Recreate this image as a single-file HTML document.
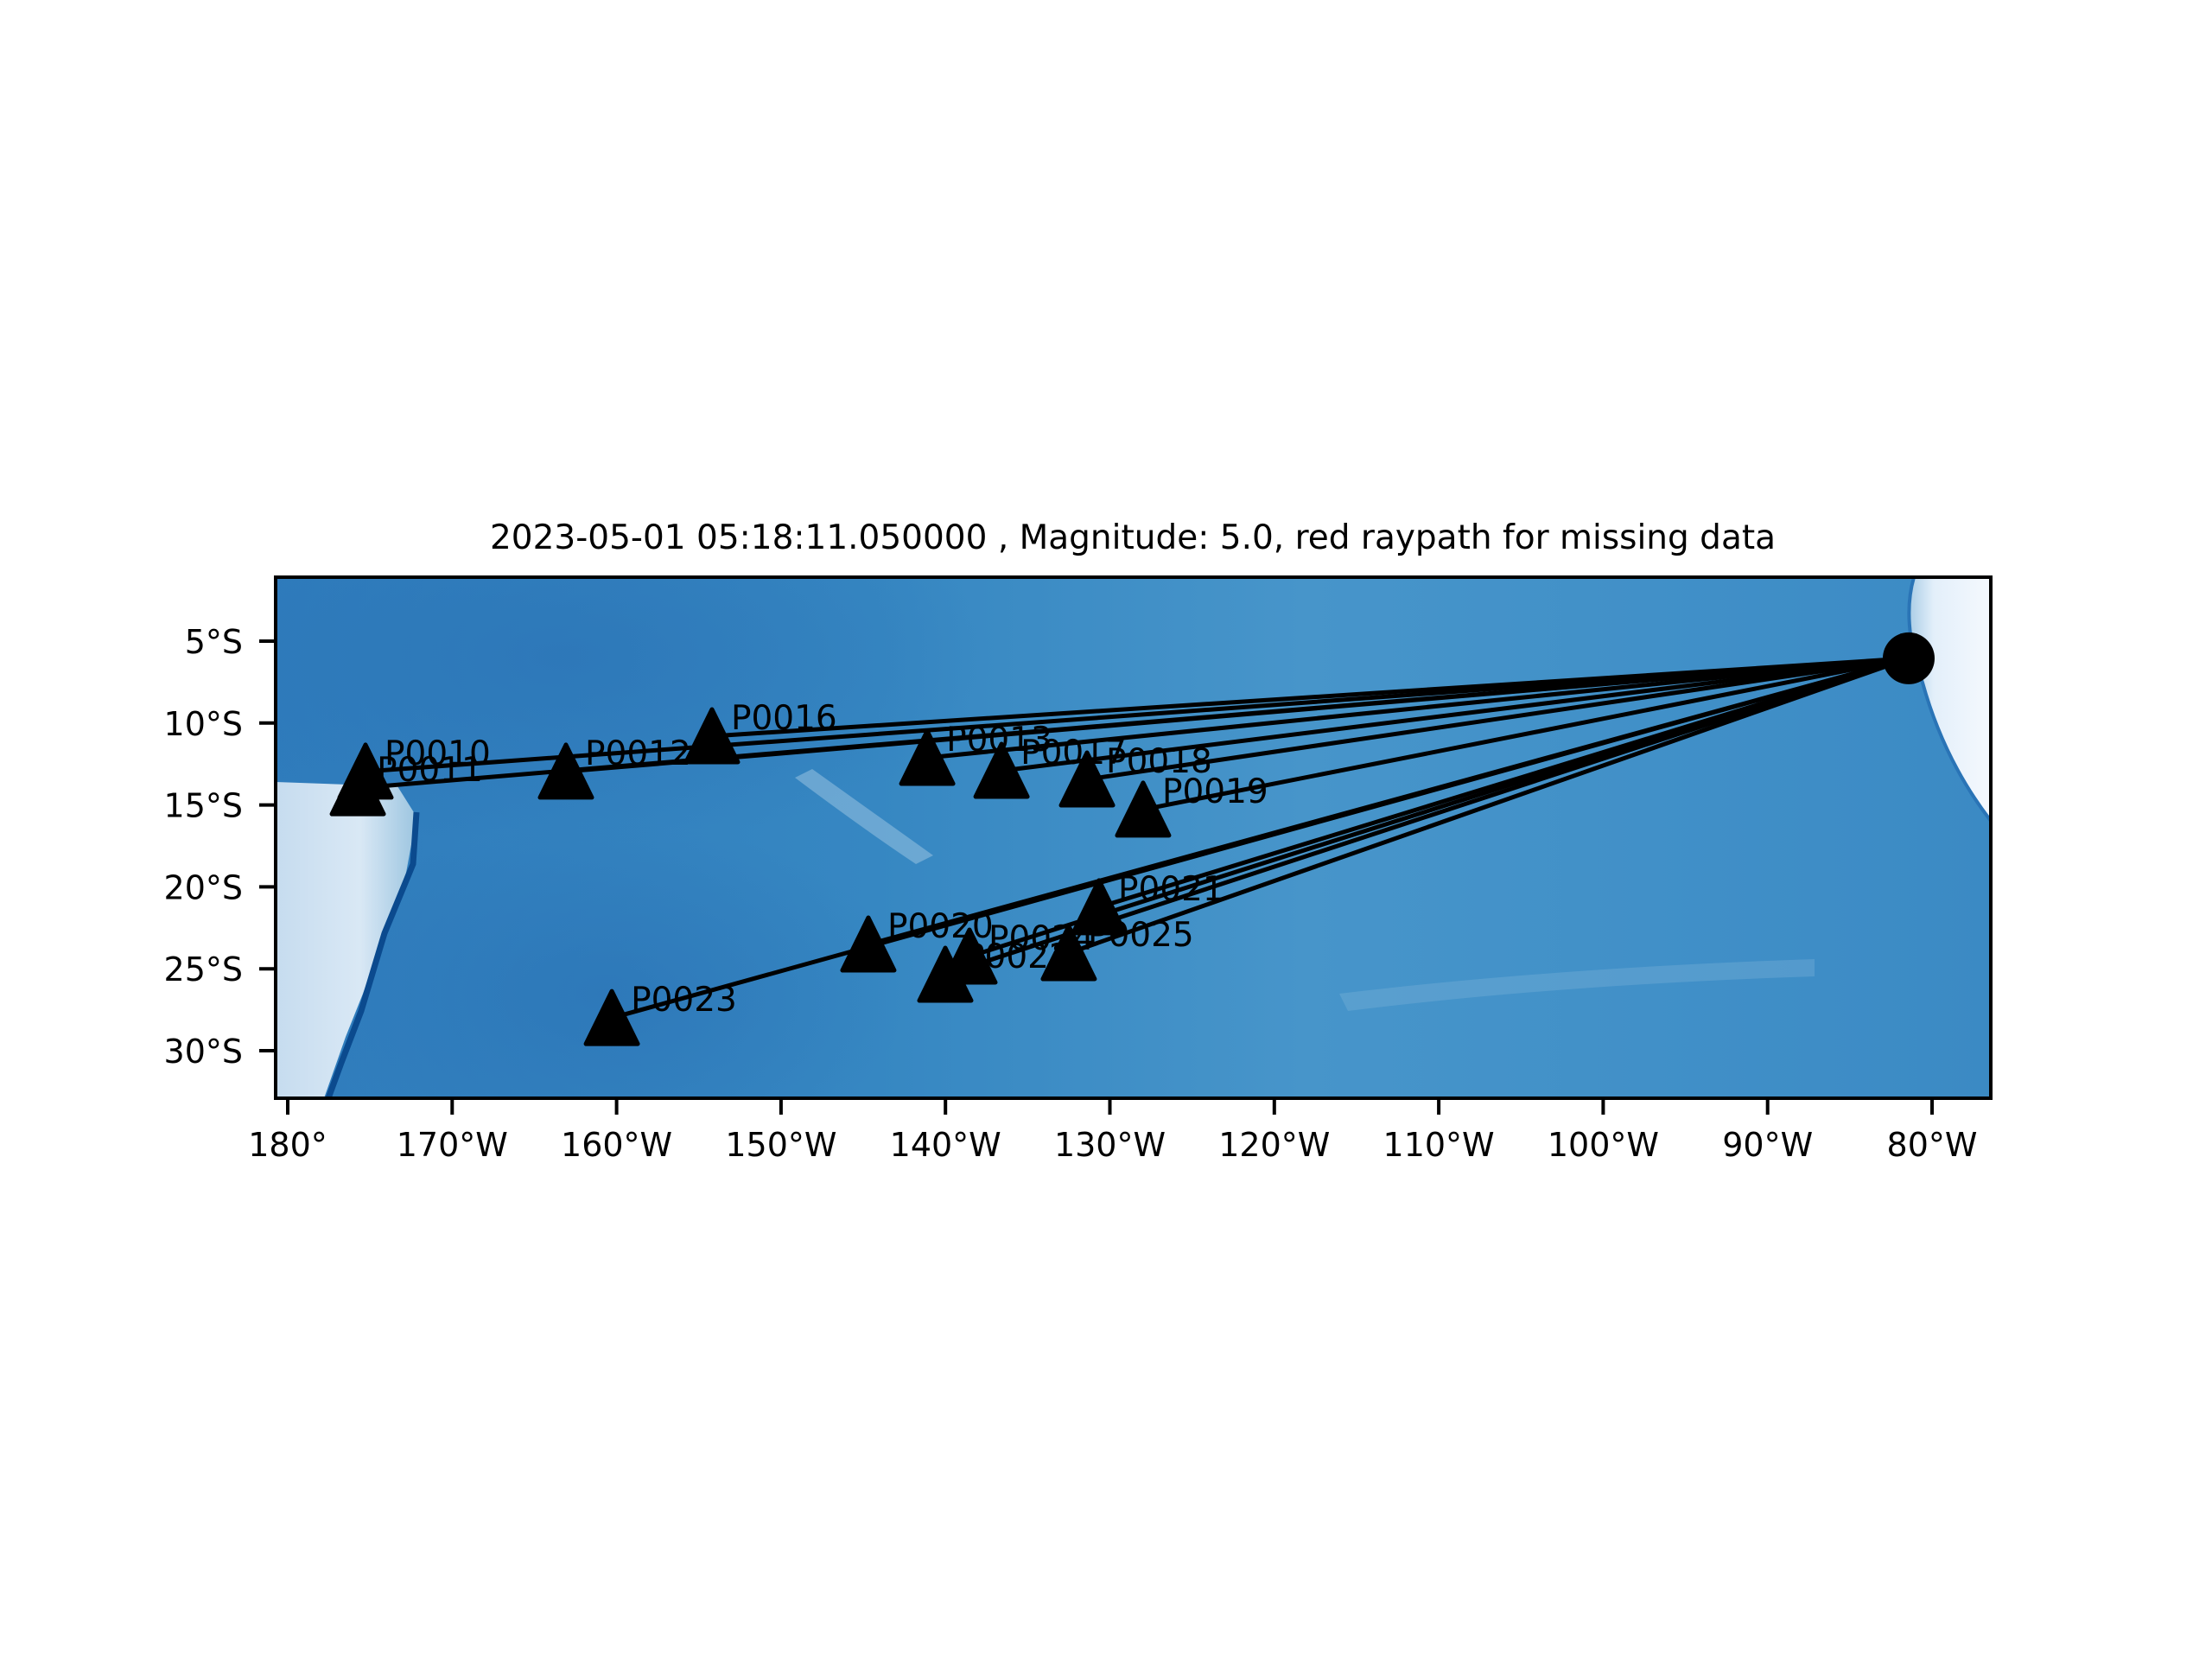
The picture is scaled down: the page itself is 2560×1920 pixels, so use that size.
<!DOCTYPE html>
<html><head><meta charset="utf-8"><style>
html,body{margin:0;padding:0;background:#fff;}
svg{display:block;font-family:"DejaVu Sans","Liberation Sans",sans-serif;}
</style></head><body>
<svg id="chart" width="2560" height="1920" viewBox="0 0 2560 1920" xmlns="http://www.w3.org/2000/svg">
<defs>
<clipPath id="clip"><rect x="319" y="668" width="1985" height="603"/></clipPath>
<linearGradient id="ocean" x1="0" y1="0" x2="1" y2="0">
<stop offset="0" stop-color="#2f7cbc"/><stop offset="0.35" stop-color="#3687c2"/><stop offset="0.6" stop-color="#4795ca"/><stop offset="0.8" stop-color="#4190c8"/><stop offset="1" stop-color="#3b8ac4"/>
</linearGradient>
<linearGradient id="land" x1="0" y1="0" x2="1" y2="0">
<stop offset="0" stop-color="#c6dcef"/><stop offset="0.6" stop-color="#d9e8f5"/><stop offset="1" stop-color="#9cc5e0"/>
</linearGradient>
<radialGradient id="dark" cx="0.5" cy="0.5" r="0.5">
<stop offset="0" stop-color="#2a72b5" stop-opacity="0.6"/><stop offset="1" stop-color="#2a72b5" stop-opacity="0"/>
</radialGradient>
<linearGradient id="coast" x1="0" y1="0" x2="1" y2="0">
<stop offset="0" stop-color="#a9cde6"/><stop offset="0.3" stop-color="#e3effa"/><stop offset="1" stop-color="#f5f9fe"/>
</linearGradient>
</defs>
<g clip-path="url(#clip)">
<rect x="319" y="668" width="1985" height="603" fill="url(#ocean)"/>
<ellipse cx="650" cy="760" rx="500" ry="220" fill="url(#dark)"/>
<ellipse cx="700" cy="1150" rx="350" ry="200" fill="url(#dark)"/>
<path d="M319,905 L460,910 L482,945 L470,1010 L445,1080 L420,1150 L400,1200 L375,1271 L319,1271 Z" fill="url(#land)"/>
<path d="M482,940 L478,1000 L445,1080 L418,1170 L395,1230 L380,1271" fill="none" stroke="#0b4a8e" stroke-width="7"/>
<path d="M920,900 Q1000,960 1060,1000 L1080,990 Q1010,940 940,890 Z" fill="#9fc8e3" opacity="0.5"/>
<path d="M2215,668 L2304,668 L2304,950 Q2250,880 2225,790 Q2200,720 2215,668 Z" fill="url(#coast)"/>
<path d="M2215,668 Q2200,720 2225,790 Q2250,880 2304,950" fill="none" stroke="#2a74b6" stroke-width="4"/>
<path d="M1550,1150 Q1800,1120 2100,1110 L2100,1130 Q1800,1140 1560,1170 Z" fill="#7fb5da" opacity="0.35"/>
</g>
<g id="rays"></g>
<g id="marks"></g>
<rect x="319" y="668" width="1985" height="603" fill="none" stroke="#000" stroke-width="4"/>
<g id="xticks"></g>
<g id="yticks"></g>
<text x="1311" y="635" font-size="39" text-anchor="middle">2023-05-01 05:18:11.050000 , Magnitude: 5.0, red raypath for missing data</text>
</svg>
<script>
const stationNames = ["P0010","P0011","P0012","P0016","P0013","P0017","P0018","P0019","P0021","P0020","P0024","P0022","P0025","P0023"];
const stationLons = [-175.27,-175.74,-163.08,-154.2,-141.11,-136.59,-131.39,-127.98,-130.66,-144.69,-138.54,-140.01,-132.5,-160.29];
const stationLats = [-12.96,-13.97,-12.96,-10.8,-12.12,-12.91,-13.44,-15.28,-21.24,-23.51,-24.25,-25.36,-24.04,-28.0];
const eventLon = -81.42;
const eventLat = -6.05;
const xTickLons = [180,170,160,150,140,130,120,110,100,90,80];
const xTickLabels = ["180°","170°W","160°W","150°W","140°W","130°W","120°W","110°W","100°W","90°W","80°W"];
const yTickLats = [-5,-10,-15,-20,-25,-30];
const yTickLabels = ["5°S","10°S","15°S","20°S","25°S","30°S"];

const NS="http://www.w3.org/2000/svg";
function xScale(lon){ const e = lon < 0 ? 360 + lon : lon; return 333 + (e - 180) * 19.03; }
function yScale(lat){ return 742 + (-lat - 5) * 18.96; }
function mk(tag, attrs, parent){ const el=document.createElementNS(NS,tag); for(const k in attrs) el.setAttribute(k,attrs[k]); parent.appendChild(el); return el; }

const rays=document.getElementById('rays'), marks=document.getElementById('marks');
const ex=xScale(eventLon), ey=yScale(eventLat);
stationNames.forEach((n,i)=>{
  const x=xScale(stationLons[i]), y=yScale(stationLats[i]);
  const l=mk('line',{x1:x,y1:y,x2:ex,y2:ey,stroke:'#000','stroke-width':5},rays);
  
  
});
stationNames.forEach((n,i)=>{
  const x=xScale(stationLons[i]), y=yScale(stationLats[i]);
  const t=mk('path',{d:`M${x},${y-31} L${x-30},${y+30} L${x+30},${y+30} Z`,fill:'#000',stroke:'#000','stroke-width':5,'stroke-linejoin':'round'},marks);
  
  
  const tx=mk('text',{x:x+22,y:y-8,'font-size':39},marks);
  tx.textContent=n;
  
  
});
const ev=mk('circle',{cx:ex,cy:ey,r:30,fill:'#000'},marks);



const xt=document.getElementById('xticks');
xTickLons.forEach((lon,i)=>{
  const x=xScale(lon===180?180:-lon);
  const l=mk('line',{x1:x,y1:1271,x2:x,y2:1290,stroke:'#000','stroke-width':4},xt);
  
  
  const t=mk('text',{x:x,y:1338,'font-size':38,'text-anchor':'middle'},xt);
  t.textContent=xTickLabels[i];
  
  
});
const yt=document.getElementById('yticks');
yTickLats.forEach((lat,i)=>{
  const y=yScale(lat);
  const l=mk('line',{x1:300,y1:y,x2:319,y2:y,stroke:'#000','stroke-width':4},yt);
  
  
  const t=mk('text',{x:281,y:y+14,'font-size':38,'text-anchor':'end'},yt);
  t.textContent=yTickLabels[i];
  
  
});
</script>
</body></html>
